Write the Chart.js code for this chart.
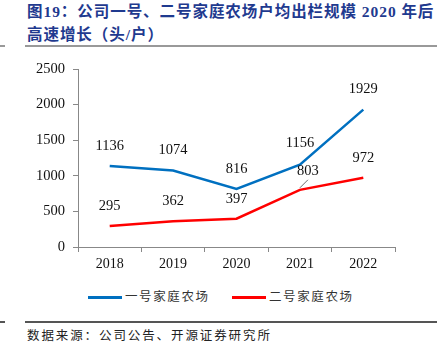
<!DOCTYPE html>
<html><head><meta charset="utf-8">
<script src="https://cdn.jsdelivr.net/npm/chart.js@4"></script>
<style>
body{margin:0;background:#fff;width:442px;height:353px;overflow:hidden;position:relative;font-family:"Liberation Serif","Noto Sans CJK SC",serif;}
#title{position:absolute;left:27px;top:0px;width:420px;color:#1F3A8F;font-weight:bold;font-size:15.5px;letter-spacing:0.95px;line-height:23px;font-family:"Liberation Serif","Noto Sans CJK SC",serif;white-space:nowrap;}
.rule{position:absolute;height:2px;background:#999;}
#src{position:absolute;left:27px;top:325px;font-size:12.5px;letter-spacing:1.9px;color:#222;font-family:"Noto Sans CJK SC",serif;}
#legend{position:absolute;top:286px;left:88px;font-size:12.5px;letter-spacing:1.6px;color:#333;font-family:"Noto Sans CJK SC",serif;}
.li{position:absolute;white-space:nowrap;}
.sw{display:inline-block;width:34px;height:3px;vertical-align:middle;margin-right:3px;}
canvas{position:absolute;left:0;top:0;}
</style></head>
<body>
<div id="title">图19：公司一号、二号家庭农场户均出栏规模 2020 年后<br>高速增长（头/户）</div>
<div class="rule" style="left:25px;top:45px;width:412px;"></div>
<div class="rule" style="left:0px;top:45px;width:5px;"></div>
<div class="rule" style="left:25px;top:321px;width:412px;background:#555;height:1.5px"></div>
<div class="rule" style="left:0px;top:321px;width:5px;background:#555;height:1.5px"></div>
<div id="src">数据来源：公司公告、开源证券研究所</div>
<div id="legend"></div>
<canvas id="c" width="442" height="353"></canvas>
<script>
const categories = ["2018","2019","2020","2021","2022"];
const farm1 = [1136,1074,816,1156,1929];
const farm2 = [295,362,397,803,972];
const seriesNames = ["一号家庭农场","二号家庭农场"];
const yTicks = [0,500,1000,1500,2000,2500];
const colors = ["#0070C0","#FF0000"];

const labelOffsets = [
  [[0,-20],[0,-20],[0,-20],[0,-22],[0,-20]],
  [[0,-20],[0,-20],[0,-20],[8,-19],[0,-20]]
];

const labelPlugin = {
  id:'labels',
  afterDatasetsDraw(chart){
    const ctx = chart.ctx;
    ctx.save();
    ctx.font = '14.5px "Liberation Serif"';
    ctx.fillStyle = '#111';
    ctx.textAlign = 'center';
    ctx.textBaseline = 'middle';
    chart.data.datasets.forEach((ds,di)=>{
      const meta = chart.getDatasetMeta(di);
      meta.data.forEach((pt,i)=>{
        const o = labelOffsets[di][i];
        ctx.fillText(String(ds.data[i]), pt.x+o[0], pt.y+o[1]);
        if(di===1 && i===3){
          ctx.strokeStyle='#444';ctx.lineWidth=0.8;
          ctx.beginPath();ctx.moveTo(pt.x,pt.y-2);ctx.lineTo(pt.x+8,pt.y-10);ctx.stroke();
        }
      });
    });
    ctx.restore();
  }
};

new Chart(document.getElementById('c'),{
  type:'line',
  data:{labels:categories,datasets:[
    {label:seriesNames[0],data:farm1,borderColor:colors[0],backgroundColor:colors[0],borderWidth:2.5,pointRadius:0,tension:0},
    {label:seriesNames[1],data:farm2,borderColor:colors[1],backgroundColor:colors[1],borderWidth:2.5,pointRadius:0,tension:0}
  ]},
  options:{
    responsive:false,animation:false,
    layout:{padding:{left:0,right:47,top:69,bottom:76}},
    plugins:{legend:{display:false},tooltip:{enabled:false}},
    scales:{
      x:{offset:true,
        grid:{offset:true,drawOnChartArea:false,drawTicks:true,tickLength:5,color:'#888'},
        border:{color:'#888',width:1},
        ticks:{color:'#111',font:{family:'Liberation Serif',size:14},padding:4},
        afterFit(s){s.height=30;}
      },
      y:{min:0,max:2500,
        afterBuildTicks(s){s.ticks=yTicks.map(v=>({value:v}));},
        grid:{drawOnChartArea:false,drawTicks:true,tickLength:5,color:'#888'},
        border:{color:'#888',width:1},
        ticks:{color:'#111',font:{family:'Liberation Serif',size:14.5},padding:8,callback:v=>String(v)},
        afterFit(s){s.width=78;}
      }
    }
  },
  plugins:[labelPlugin]
});

const lg = document.getElementById('legend');
const pos = [0,144];
seriesNames.forEach((n,i)=>{
  const d=document.createElement('div');d.className='li';d.style.left=pos[i]+'px';
  d.innerHTML='<span class="sw" style="background:'+colors[i]+'"></span>'+n;
  lg.appendChild(d);
});
</script>
</body></html>
